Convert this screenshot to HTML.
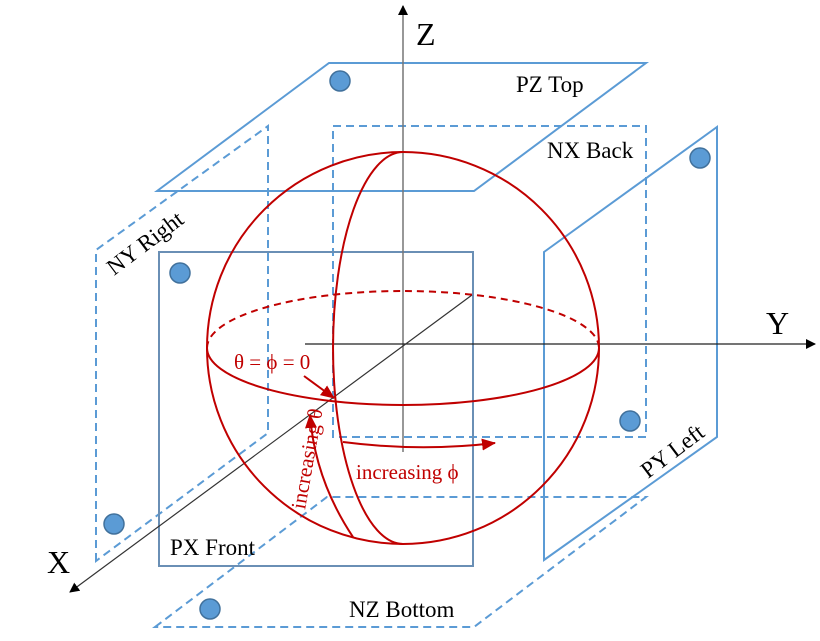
<!DOCTYPE html>
<html><head><meta charset="utf-8"><style>
html,body{margin:0;padding:0;background:#fff;}
svg{display:block;}
text{font-family:"Liberation Serif",serif;}
</style></head><body>
<svg width="820" height="641" viewBox="0 0 820 641">
<defs>
<marker id="ab" markerWidth="10" markerHeight="10" refX="9" refY="5" orient="auto" markerUnits="userSpaceOnUse"><path d="M0,0 L10,5 L0,10 Z" fill="#000"/></marker>
<marker id="ar" markerWidth="14" markerHeight="12" refX="13" refY="6" orient="auto" markerUnits="userSpaceOnUse"><path d="M0,0 L14,6 L0,12 Z" fill="#c00000"/></marker>
</defs>
<g fill="none" stroke="#5b9bd5" stroke-width="2">
<polygon points="333,126 646,126 646,437 333,437" stroke-dasharray="8,5"/>
<polygon points="96,561 96,250 268,126 268,433" stroke-dasharray="8,5"/>
<polygon points="155,627 327,497 646,497 474,627" stroke-dasharray="8,5"/>
<polygon points="157,191 329,63 646,63 474,191"/>
<polygon points="544,252 717,127 717,437 544,560"/>
<rect x="159" y="252" width="314" height="314" stroke="#6a8fb5"/>
</g>
<line x1="403" y1="452" x2="403" y2="6" stroke="#777" stroke-width="1.5" marker-end="url(#ab)"/>
<line x1="305" y1="344" x2="815" y2="344" stroke="#222" stroke-width="1.2" marker-end="url(#ab)"/>
<line x1="472" y1="295" x2="70" y2="592" stroke="#333" stroke-width="1.2" marker-end="url(#ab)"/>
<g fill="none" stroke="#c00000" stroke-width="2">
<circle cx="403" cy="348" r="196"/>
<path d="M207,348 A196,57 0 0 1 599,348" stroke-dasharray="7,5"/>
<path d="M207,348 A196,57 0 0 0 599,348"/>
<path d="M403,152 A70,196 0 0 0 403,544"/>
<path d="M353,537 Q315,480 310,415" marker-end="url(#ar)"/>
<path d="M343,442 Q420,452 495,443" marker-end="url(#ar)"/>
<line x1="304" y1="376" x2="334" y2="398" marker-end="url(#ar)"/>
</g>
<g fill="#5b9bd5" stroke="#41719c" stroke-width="1.5">
<circle cx="340" cy="81" r="10"/>
<circle cx="700" cy="158" r="10"/>
<circle cx="180" cy="273" r="10"/>
<circle cx="630" cy="421" r="10"/>
<circle cx="114" cy="524" r="10"/>
<circle cx="210" cy="609" r="10"/>
</g>
<g fill="#000">
<text x="416" y="45" font-size="32">Z</text>
<text x="766" y="334" font-size="32">Y</text>
<text x="47" y="573" font-size="32">X</text>
<text x="516" y="92" font-size="23">PZ Top</text>
<text x="547" y="158" font-size="23">NX Back</text>
<text x="170" y="555" font-size="23">PX Front</text>
<text x="349" y="617" font-size="23">NZ Bottom</text>
<text transform="translate(114,276) rotate(-37)" font-size="23">NY Right</text>
<text transform="translate(648,479) rotate(-37)" font-size="23">PY Left</text>
</g>
<g fill="#c00000">
<text x="234" y="369" font-size="21">θ = ϕ = 0</text>
<text x="356" y="479" font-size="21">increasing ϕ</text>
<text transform="translate(305,510) rotate(-80)" font-size="21">increasing θ</text>
</g>
</svg>
</body></html>
